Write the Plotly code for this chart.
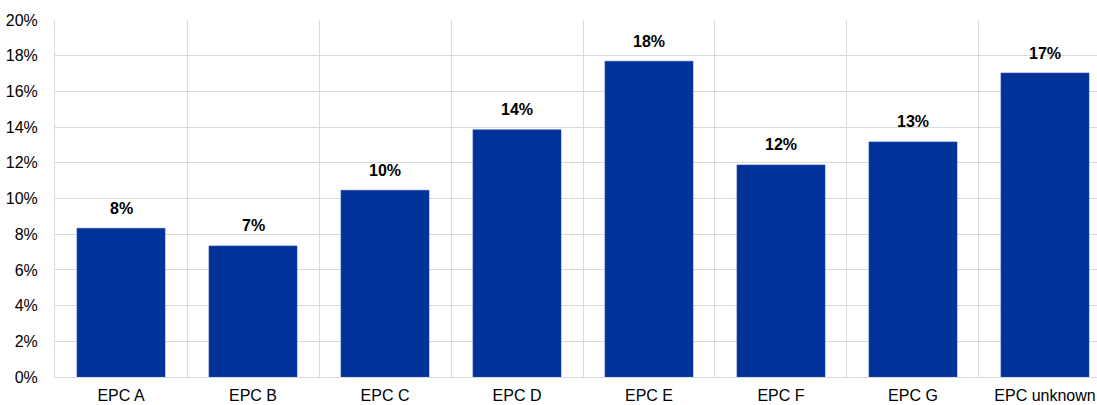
import plotly.graph_objects as go

categories = ["EPC A", "EPC B", "EPC C", "EPC D", "EPC E", "EPC F", "EPC G", "EPC unknown"]
values = [8.33, 7.34, 10.46, 13.85, 17.69, 11.88, 13.17, 17.03]
labels = ["8%", "7%", "10%", "14%", "18%", "12%", "13%", "17%"]
y_ticks = [0, 2, 4, 6, 8, 10, 12, 14, 16, 18, 20]
y_ticktext = [f"{v}%" for v in y_ticks]

fig = go.Figure()
fig.add_trace(go.Bar(
    x=categories, y=values, width=0.667,
    marker=dict(color="#003299", line=dict(color="#2a4fae", width=0.6)),
    hoverinfo="skip",
))

for c, v, t in zip(categories, values, labels):
    fig.add_annotation(x=c, y=v, text=f"<b>{t}</b>", showarrow=False,
                       yshift=20, yanchor="middle",
                       font=dict(family="Liberation Sans, Arial, sans-serif", size=16, color="#000000"))

fig.update_layout(
    width=1097, height=405,
    margin=dict(l=55, r=0, t=20, b=28, autoexpand=False),
    paper_bgcolor="white", plot_bgcolor="white",
    showlegend=False,
    font=dict(family="Liberation Sans, Arial, sans-serif", size=16, color="#000000"),
)
fig.update_xaxes(
    type="category", range=[-0.5, 7.394], tickson="boundaries",
    showgrid=True, gridcolor="#d9d9d9", gridwidth=1,
    showline=True, linecolor="#d9d9d9", linewidth=1,
    ticks="", ticklabelstandoff=4, automargin=False,
    tickfont=dict(size=16),
)
fig.update_yaxes(
    range=[0, 20], tickvals=y_ticks, ticktext=y_ticktext,
    showgrid=True, gridcolor="#d9d9d9", gridwidth=1,
    zeroline=False, showline=True, linecolor="#d9d9d9", linewidth=1,
    ticks="", ticklabelstandoff=13, automargin=False,
    tickfont=dict(size=16),
)

fig.write_html("out.html", config={"displayModeBar": False},
               post_script="document.body.style.margin='0';document.body.style.overflow='hidden';")
